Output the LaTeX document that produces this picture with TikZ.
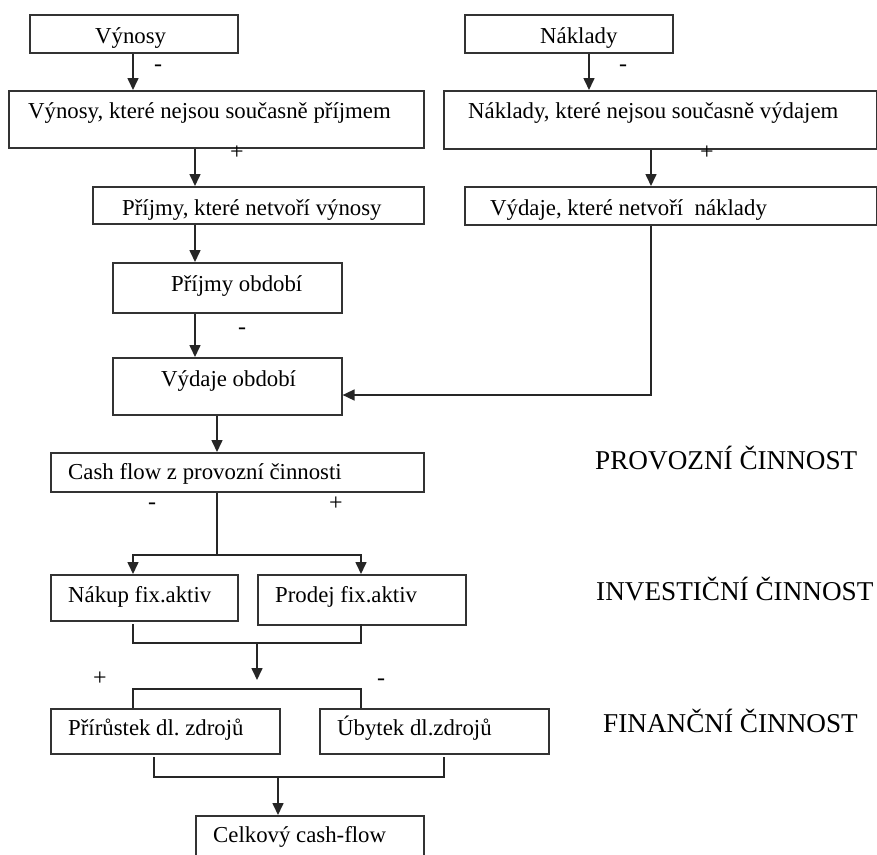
\documentclass[tikz,border=0pt]{standalone}
\usepackage{fontspec}
\setmainfont{Liberation Serif}
\usetikzlibrary{arrows.meta}
\frenchspacing
\begin{document}
\begin{tikzpicture}[x=1pt,y=-1pt,
  boxst/.style={draw=black!80, line width=1.6pt, inner sep=0pt, anchor=north west},
  txt/.style={inner sep=0pt, anchor=base west, font=\fontsize{22.8}{27}\selectfont},
  lbl/.style={inner sep=0pt, anchor=base west, font=\fontsize{27.2}{32}\selectfont},
  sgn/.style={inner sep=0pt, font=\fontsize{24}{28}\selectfont},
  conn/.style={draw=black!85, line width=1.6pt},
  arr/.style={conn, -{Triangle[length=12pt,width=11pt]}}
]
\useasboundingbox (0,0) rectangle (877,854);
\clip (0,0) rectangle (877,854);

% boxes
\node[boxst, minimum width=208pt, minimum height=38pt] (vyn)   at (29,14) {};
\node[boxst, minimum width=415pt, minimum height=57pt] (vyn2)  at (8,90) {};
\node[boxst, minimum width=331pt, minimum height=37pt] (prij1) at (92,186) {};
\node[boxst, minimum width=208pt, minimum height=38pt] (nak)   at (464,14) {};
\node[boxst, minimum width=433pt, minimum height=58pt] (nak2)  at (443,90) {};
\node[boxst, minimum width=412pt, minimum height=38pt] (vyd1)  at (464,186) {};
\node[boxst, minimum width=229pt, minimum height=50pt] (prijo) at (112,262) {};
\node[boxst, minimum width=229pt, minimum height=57pt] (vydo)  at (112,357) {};
\node[boxst, minimum width=373pt, minimum height=39pt] (cf)    at (50,452) {};
\node[boxst, minimum width=187pt, minimum height=46pt] (nakup) at (50,574) {};
\node[boxst, minimum width=208pt, minimum height=50pt] (prodej) at (257,574) {};
\node[boxst, minimum width=229pt, minimum height=45pt] (prir)  at (50,708) {};
\node[boxst, minimum width=229pt, minimum height=45pt] (ubyt)  at (319,708) {};
\node[boxst, minimum width=228pt, minimum height=60pt] (celk)  at (195,815) {};

% texts
\node[txt] (t1) at (95,43) {Výnosy};
\node[txt] (t2) at (28,118) {Výnosy, které nejsou současně příjmem};
\node[txt] (t3) at (122,215) {Příjmy, které netvoří výnosy};
\node[txt] (t4) at (540,43) {Náklady};
\node[txt] (t5) at (468,118) {Náklady, které nejsou současně výdajem};
\node[txt] (t6) at (490,215) {Výdaje, které netvoří~ náklady};
\node[txt] (t7) at (171,291) {Příjmy období};
\node[txt] (t8) at (161,386) {Výdaje období};
\node[txt] (t9) at (68,479) {Cash flow z provozní činnosti};
\node[txt] (t10) at (68,602) {Nákup fix.aktiv};
\node[txt] (t11) at (275,602) {Prodej fix.aktiv};
\node[txt] (t12) at (68,735) {Přírůstek dl. zdrojů};
\node[txt] (t13) at (337,735) {Úbytek dl.zdrojů};
\node[txt] (t14) at (213,842) {Celkový cash-flow};

\node[lbl] (l1) at (595,469) {PROVOZNÍ ČINNOST};
\node[lbl] (l2) at (596,600) {INVESTIČNÍ ČINNOST};
\node[lbl] (l3) at (603,732) {FINANČNÍ ČINNOST};

% signs
\node[sgn] (s1) at (158,68) {-};
\node[sgn] (s2) at (623,68) {-};
\node[sgn] (s3) at (237,153) {+};
\node[sgn] (s4) at (707,153) {+};
\node[sgn] (s5) at (242,331) {-};
\node[sgn] (s6) at (152,506) {-};
\node[sgn] (s7) at (336,504) {+};
\node[sgn] (s8) at (100,679) {+};
\node[sgn] (s9) at (381,682) {-};

% helper coordinates
\coordinate (xA) at (133,0);
\coordinate (xB) at (195,0);
\coordinate (xC) at (589,0);
\coordinate (xD) at (651,0);
\coordinate (xE) at (217,0);
\coordinate (yR) at (0,395);
\coordinate (sp) at (217,555);
\coordinate (xF) at (133,0);
\coordinate (xK) at (361,0);
\coordinate (a1) at (133,624);
\coordinate (a2) at (361,624);
\coordinate (m1) at (257,643);
\coordinate (m2) at (257,680);
\coordinate (f1) at (257,689);
\coordinate (b1) at (154,757);
\coordinate (b2) at (444,757);
\coordinate (m3) at (278,777);

% connectors
\draw[arr] (vyn.south -| xA) -- (vyn2.north -| xA);
\draw[arr] (vyn2.south -| xB) -- (prij1.north -| xB);
\draw[arr] (nak.south -| xC) -- (nak2.north -| xC);
\draw[arr] (nak2.south -| xD) -- (vyd1.north -| xD);
\draw[arr] (prij1.south -| xB) -- (prijo.north -| xB);
\draw[arr] (prijo.south -| xB) -- (vydo.north -| xB);
\draw[arr] (vyd1.south -| xD) |- (vydo.east |- yR);
\draw[arr] (vydo.south -| xE) -- (cf.north -| xE);
\draw[conn] (cf.south -| xE) -- (sp);
\draw[arr] (sp) -| (nakup.north -| xF);
\draw[arr] (sp) -| (prodej.north -| xK);
\draw[conn] (a1) |- (m1) -| (a2);
\draw[arr] (m1) -- (m2);
\draw[conn] (prir.north -| xF) |- (f1) -| (ubyt.north -| xK);
\draw[conn] (b1) |- (m3) -| (b2);
\draw[arr] (m3) -- (celk.north -| m3);
\end{tikzpicture}
\end{document}
